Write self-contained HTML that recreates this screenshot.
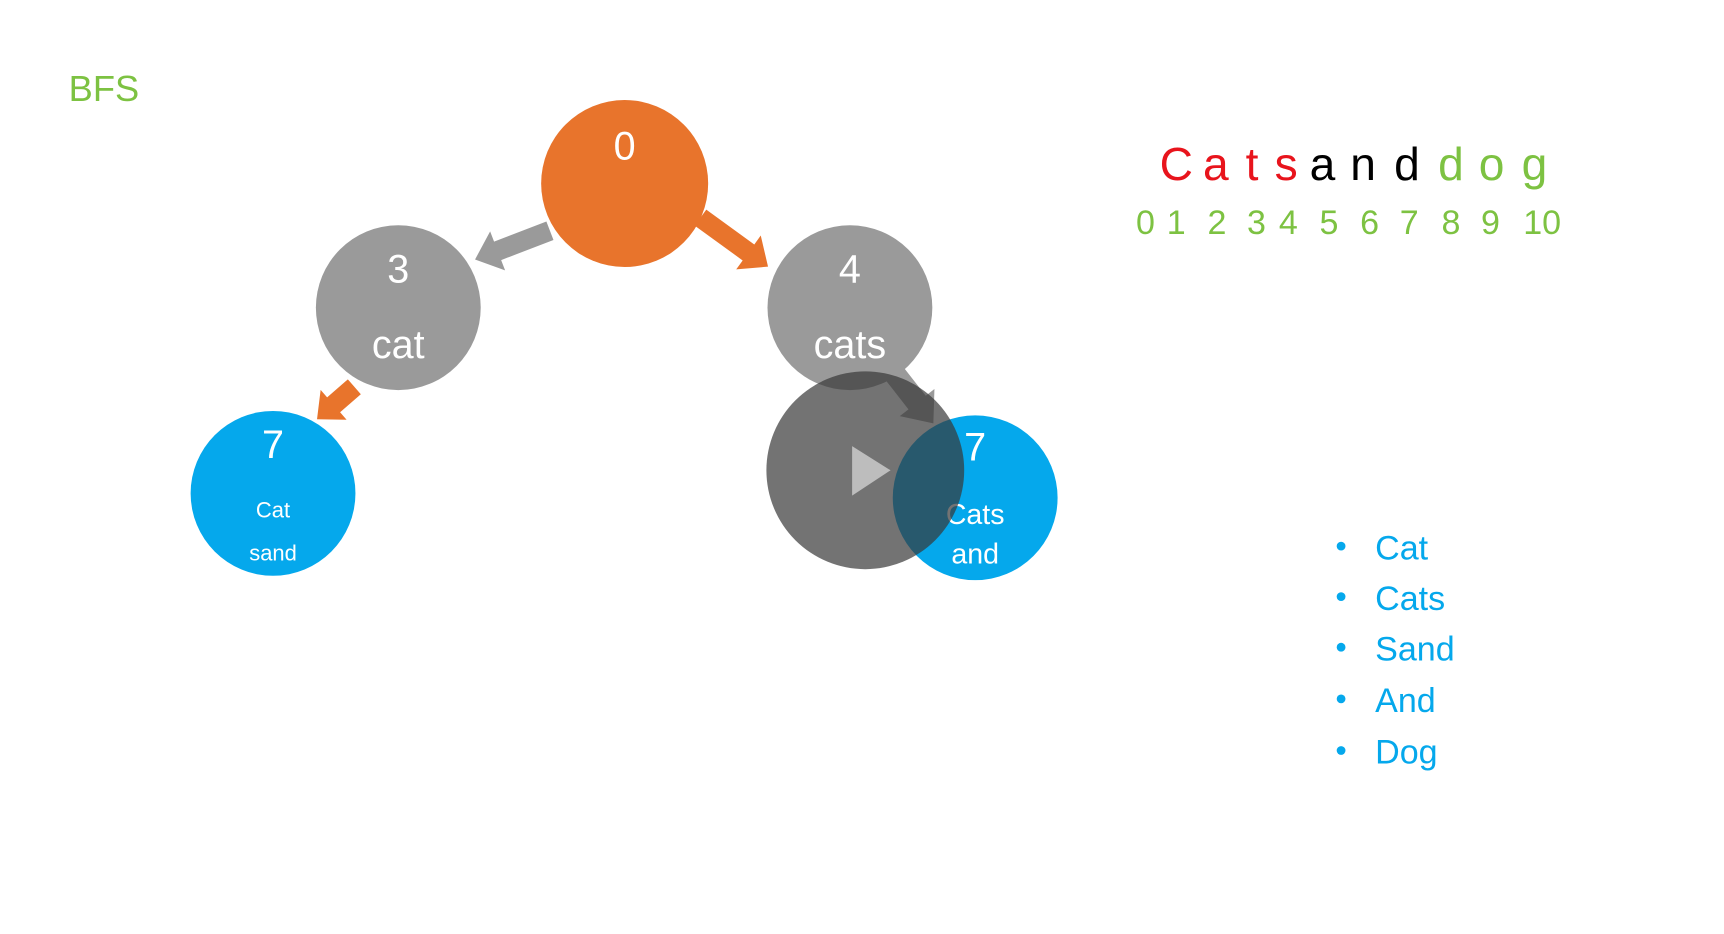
<!DOCTYPE html>
<html><head><meta charset="utf-8"><style>
html,body{margin:0;padding:0;background:#fff;overflow:hidden}
svg{display:block}
text{font-family:"Liberation Sans",sans-serif}
</style></head><body>
<svg width="1724" height="934" viewBox="0 0 1568 850" xmlns="http://www.w3.org/2000/svg">
<rect width="1568" height="850" fill="#fff"/>
<text x="62" y="92" font-size="33" fill="#7dc242">BFS</text>

<g transform="translate(500,210) rotate(159)"><polygon points="0,-9 51,-9 51,-19 73,0 51,19 51,9 0,9" fill="#9a9a9a"/></g>
<g transform="translate(637,198) rotate(36)"><polygon points="0,-9 54,-9 54,-19 76,0 54,19 54,9 0,9" fill="#e8742c"/></g>
<g transform="translate(322,352) rotate(139)"><polygon points="0,-9 25,-9 25,-18 45,0 25,18 25,9 0,9" fill="#e8742c"/></g>
<g transform="translate(812,338) rotate(52)"><polygon points="0,-10 36,-10 36,-20 60,0 36,20 36,10 0,10" fill="#9a9a9a"/></g>

<circle cx="568" cy="167" r="76" fill="#e8742c"/>
<text x="568" y="145" font-size="36" fill="#fff" text-anchor="middle">0</text>
<circle cx="362" cy="280" r="75" fill="#9a9a9a"/>
<text x="362" y="257" font-size="36" fill="#fff" text-anchor="middle">3</text>
<text x="362" y="326" font-size="36" fill="#fff" text-anchor="middle">cat</text>
<circle cx="773" cy="280" r="75" fill="#9a9a9a"/>
<text x="773" y="257" font-size="36" fill="#fff" text-anchor="middle">4</text>
<text x="773" y="326" font-size="36" fill="#fff" text-anchor="middle">cats</text>
<circle cx="248" cy="449" r="75" fill="#05a8ec"/>
<text x="248" y="417" font-size="36" fill="#fff" text-anchor="middle">7</text>
<text x="248" y="471" font-size="20" fill="#fff" text-anchor="middle">Cat</text>
<text x="248" y="510" font-size="20" fill="#fff" text-anchor="middle">sand</text>
<circle cx="887" cy="453" r="75" fill="#05a8ec"/>
<text x="887" y="419" font-size="36" fill="#fff" text-anchor="middle">7</text>
<text x="887" y="477" font-size="26" fill="#fff" text-anchor="middle">Cats</text>
<text x="887" y="513" font-size="26" fill="#fff" text-anchor="middle">and</text>

<circle cx="787" cy="428" r="90" fill="rgba(55,55,55,0.7)"/>
<polygon points="775,406 775,451 810,428" fill="#bdbdbd"/>

<g font-size="42" text-anchor="middle">
<text x="1070" y="164" fill="#e8141c">C</text>
<text x="1106" y="164" fill="#e8141c">a</text>
<text x="1139" y="164" fill="#e8141c">t</text>
<text x="1170" y="164" fill="#e8141c">s</text>
<text x="1203" y="164" fill="#000">a</text>
<text x="1240" y="164" fill="#000">n</text>
<text x="1280" y="164" fill="#000">d</text>
<text x="1320" y="164" fill="#7dc242">d</text>
<text x="1357" y="164" fill="#7dc242">o</text>
<text x="1396" y="164" fill="#7dc242">g</text>
</g>
<g font-size="31" text-anchor="middle" fill="#7dc242">
<text x="1042" y="213">0</text><text x="1070" y="213">1</text><text x="1107" y="213">2</text>
<text x="1143" y="213">3</text><text x="1172" y="213">4</text><text x="1209" y="213">5</text>
<text x="1246" y="213">6</text><text x="1282" y="213">7</text><text x="1320" y="213">8</text>
<text x="1356" y="213">9</text><text x="1403" y="213">10</text>
</g>

<g font-size="31" fill="#05a8ec">
<circle cx="1220" cy="497" r="4"/><text x="1251" y="509">Cat</text>
<circle cx="1220" cy="543" r="4"/><text x="1251" y="555">Cats</text>
<circle cx="1220" cy="589" r="4"/><text x="1251" y="601">Sand</text>
<circle cx="1220" cy="636" r="4"/><text x="1251" y="648">And</text>
<circle cx="1220" cy="683" r="4"/><text x="1251" y="695">Dog</text>
</g>
</svg>
</body></html>
